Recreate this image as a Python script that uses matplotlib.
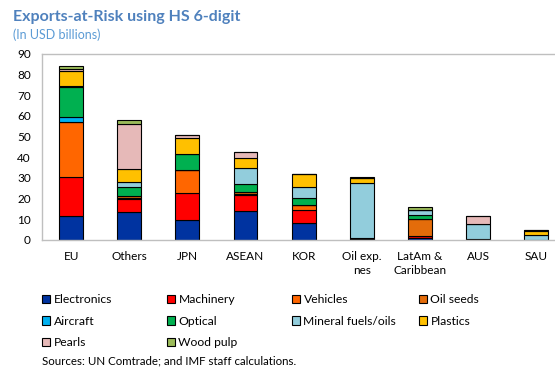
import numpy as np
import matplotlib
matplotlib.use("Agg")
import matplotlib.pyplot as plt

plt.rcParams["font.family"] = ["Lato", "DejaVu Sans"]

# categories (x axis)
regions = ["EU", "Others", "JPN", "ASEAN", "KOR", "Oil exp.\nnes",
           "LatAm &\nCaribbean", "AUS", "SAU"]

# exports at risk by product, USD billions
electronics   = [11.6, 13.5,  9.8, 13.9, 8.2,  0.4, 0.9, 0.3, 0.0]
machinery     = [19.0,  6.2, 13.0,  7.7, 6.3,  0.4, 0.9, 0.0, 0.0]
vehicles      = [26.4,  0.8, 11.2,  0.8, 2.4,  0.0, 0.0, 0.0, 0.0]
oil_seeds     = [ 0.0,  0.8,  0.0,  0.7, 0.0,  0.0, 8.6, 0.0, 0.0]
aircraft      = [ 2.5,  0.0,  0.0,  0.0, 0.0,  0.0, 0.0, 0.0, 0.0]
optical       = [14.3,  4.3,  7.4,  3.8, 3.3,  0.0, 1.6, 0.0, 0.0]
mineral_fuels = [ 0.8,  2.4,  0.4,  7.9, 5.3, 26.6, 2.4, 7.3, 2.4]
plastics      = [ 7.0,  6.2,  7.6,  4.7, 6.3,  2.4, 0.0, 0.0, 2.0]
pearls        = [ 1.2, 21.9,  1.2,  2.9, 0.0,  0.4, 0.0, 4.0, 0.3]
wood_pulp     = [ 1.5,  1.8,  0.0,  0.0, 0.0,  0.4, 1.6, 0.0, 0.3]

series = [
    ("Electronics", electronics, "#0033A0"),
    ("Machinery", machinery, "#FF0000"),
    ("Vehicles", vehicles, "#FF6600"),
    ("Oil seeds", oil_seeds, "#E46C0A"),
    ("Aircraft", aircraft, "#00B0F0"),
    ("Optical", optical, "#00B050"),
    ("Mineral fuels/oils", mineral_fuels, "#92CDDC"),
    ("Plastics", plastics, "#FFC000"),
    ("Pearls", pearls, "#E6B9B8"),
    ("Wood pulp", wood_pulp, "#9BBB59"),
]

fig = plt.figure(figsize=(5.55, 3.68), dpi=100)
ax = fig.add_axes([42 / 555, 1 - 240 / 368, 1 - 42 / 555, (240 - 54) / 368])

x = np.arange(len(regions))
bottom = np.zeros(len(regions))
handles = {}
for name, vals, color in series:
    vals = np.array(vals)
    bars = ax.bar(x, vals, 0.41, bottom=bottom, color=color,
                  edgecolor="black", linewidth=0.8, label=name)
    handles[name] = bars
    bottom += vals

ax.set_ylim(0, 90)
ax.set_yticks(np.arange(0, 91, 10))
ax.set_xlim(-0.5, 8.32)
ax.set_xticks(x)
ax.set_xticklabels(regions, fontsize=8.5, linespacing=1.3)
ax.tick_params(axis="y", labelsize=8.5, length=0, pad=8)
ax.tick_params(axis="x", length=0, pad=8)
for side in ["left", "top", "bottom"]:
    ax.spines[side].set_color("#BFBFBF")
    ax.spines[side].set_linewidth(1.0)
ax.spines["right"].set_visible(False)

# legend laid out in fixed columns, as in the original
columns = [["Electronics", "Aircraft", "Pearls"],
           ["Machinery", "Optical", "Wood pulp"],
           ["Vehicles", "Mineral fuels/oils"],
           ["Oil seeds", "Plastics"]]
col_x = [42, 167, 292, 419]
for names, cx in zip(columns, col_x):
    fig.legend([handles[n] for n in names], names,
               loc="upper left", bbox_to_anchor=(cx / 555, 1 - 294 / 368),
               frameon=False, fontsize=8.7, handlelength=0.7,
               handleheight=0.7, handletextpad=0.25, labelspacing=0.88,
               borderpad=0, borderaxespad=0)

fig.text(13 / 555, 1 - 17 / 368, "Exports-at-Risk using HS 6-digit",
         fontsize=11.5, fontweight="bold", color="#4F81BD", va="center")
fig.text(13 / 555, 1 - 35 / 368, "(In USD billions)",
         fontsize=9, color="#5B9BD5", va="center")
fig.text(42 / 555, 1 - 361 / 368, "Sources: UN Comtrade; and IMF staff calculations.",
         fontsize=8.3, color="black", va="center")

fig.savefig("out.png", dpi=100)
